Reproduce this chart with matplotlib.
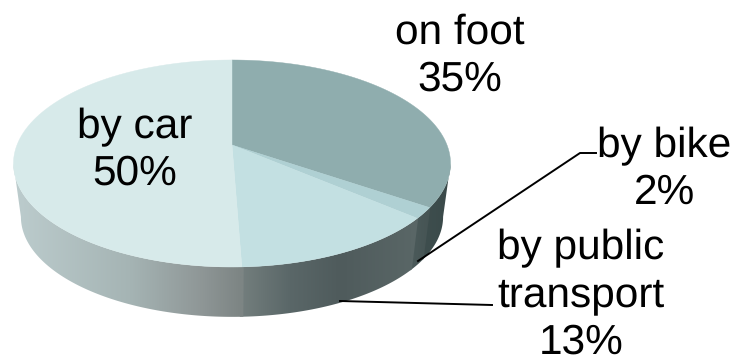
import numpy as np
import matplotlib
matplotlib.use('Agg')
import matplotlib.pyplot as plt
from matplotlib.colors import to_rgb
from matplotlib.patches import Polygon

plt.rcParams['font.family'] = ['Liberation Sans', 'DejaVu Sans']
plt.rcParams['text.hinting'] = 'none'

categories = ['on foot', 'by bike', 'by public\ntransport', 'by car']
shares = [34.5, 1.7, 13.2, 50.6]
percent_labels = ['35%', '2%', '13%', '50%']
top_colors = ['#8fadae', '#afd0d3', '#c3e0e2', '#d7eaea']
# side shading per slice, (x pixel, colour) stops
side_stops = [
    [(425, '#3e4e4e'), (452, '#3a4949')],
    [(415, '#4a5959'), (430, '#465454')],
    [(240, '#747f7e'), (290, '#5a6768'), (340, '#4f5b5c'), (418, '#5a6767')],
    [(14, '#bccccd'), (130, '#a5b4b4'), (200, '#8f9797'), (240, '#7d8584')],
]

# pie geometry in pixels
cx = 232
top_cy = 145
bot_cy = 199
a = 215
b = 100.2
persp = 0.1787
bot_scale = 0.966


def rim(theta, cy, scale):
    # theta clockwise from 12 o'clock, far edge is shrunk by the perspective
    u = np.sin(theta)
    v = np.cos(theta)
    s = scale / (1 + persp * v)
    return cx + a * u * s, cy - b * v * s


fig = plt.figure(figsize=(7.36, 3.62), dpi=100)
ax = fig.add_axes([0, 0, 1, 1])

edges = 2 * np.pi * np.cumsum([0] + shares) / sum(shares)
# only the front of the rim shows, between the two tangent points
front_lo = np.arccos(-persp)
front_hi = 2 * np.pi - front_lo
overlap = np.radians(0.4)

for i in range(len(shares)):
    th = np.linspace(max(edges[i] - overlap, front_lo), min(edges[i + 1] + overlap, front_hi), 120)
    x1, y1 = rim(th, top_cy, 1)
    x2, y2 = rim(th[::-1], bot_cy, bot_scale)
    poly = Polygon(np.column_stack([np.r_[x1, x2], np.r_[y1, y2]]), closed=True,
                   facecolor='none', edgecolor='none', transform=ax.transData)
    ax.add_patch(poly)
    xs = np.arange(0, 737)
    stop_x = [p[0] for p in side_stops[i]]
    stop_c = np.array([to_rgb(p[1]) for p in side_stops[i]])
    grad = np.column_stack([np.interp(xs, stop_x, stop_c[:, c]) for c in range(3)])
    im = ax.imshow(grad[np.newaxis, :, :], extent=[0, 736, 362, 0], aspect='auto', zorder=1)
    im.set_clip_path(poly)

for i in range(len(shares)):
    th = np.linspace(edges[i], edges[i + 1], 200)
    x1, y1 = rim(th, top_cy, 1)
    ax.fill(np.r_[cx, x1], np.r_[top_cy, y1], color=top_colors[i], lw=0.3, zorder=2)

# leader lines
ax.plot([418, 580, 596], [261, 153, 153], color='black', lw=1.4, zorder=3)
ax.plot([340, 492], [301, 305], color='black', lw=1.4, zorder=3)

label_x = [460, 664, 581, 135]
label_y = [56, 170, 295.5, 150.5]
for i in range(len(categories)):
    ax.text(label_x[i], label_y[i], categories[i] + '\n' + percent_labels[i], ha='center',
            va='center', fontsize=30.5, linespacing=1.25, color='black', zorder=4)

ax.set_xlim(0, 736)
ax.set_ylim(362, 0)
ax.axis('off')
fig.savefig('out.png', dpi=100)
